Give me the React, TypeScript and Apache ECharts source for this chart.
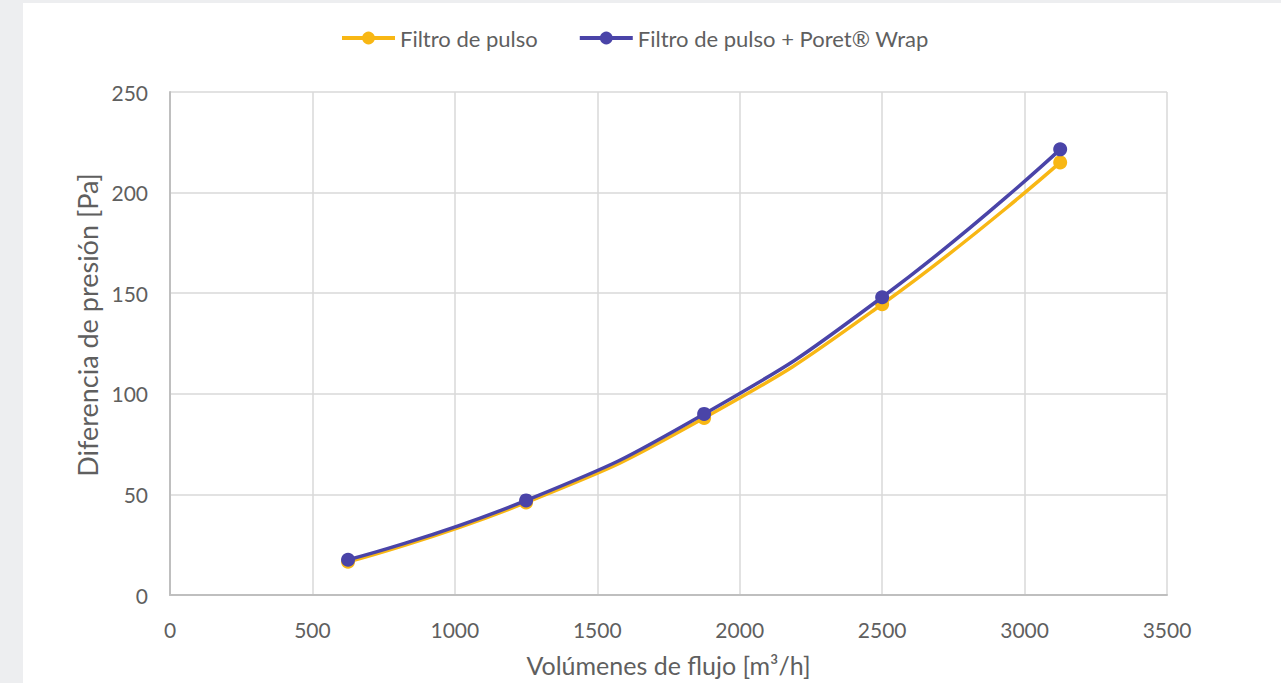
import React, { useEffect, useRef } from "react";
import * as echarts from "echarts";

const xValues = [625, 1250, 1875, 2500, 3125];
const pulseFilter = [16.5, 46, 88, 144.5, 215];
const pulseWrap = [17.5, 47, 90, 148, 221.5];
const seriesNames = ["Filtro de pulso", "Filtro de pulso + Poret® Wrap"];
const xAxisName = "Volúmenes de flujo [m³/h]";
const yAxisName = "Diferencia de presión [Pa]";

const FONT = "Lato, 'Open Sans', sans-serif";
const TEXT = "#5f5f5f";
const ORANGE = "#F8B714";
const PURPLE = "#4A44A8";

export default function App() {
  const ref = useRef<HTMLDivElement>(null);
  useEffect(() => {
    if (!ref.current) return;
    const chart = echarts.init(ref.current, undefined, { renderer: "svg" });
    const toPairs = (ys: number[]) => xValues.map((x, i) => [x, ys[i]]);
    chart.setOption({
      animation: false,
      backgroundColor: "#ffffff",
      textStyle: { fontFamily: FONT },
      legend: {
        top: 19,
        left: 312,
        itemWidth: 53,
        itemHeight: 16,
        itemGap: 40,
        lineStyle: { width: 4 },
        textStyle: { fontFamily: FONT, fontSize: 22, color: TEXT },
        data: seriesNames,
      },
      grid: {
        left: 147,
        top: 89,
        width: 997,
        height: 503,
        containLabel: false,
        outerBoundsMode: "none",
      },
      graphic: [
        {
          type: "text",
          x: 64,
          y: 322,
          rotation: Math.PI / 2,
          style: {
            text: yAxisName,
            fontFamily: FONT,
            fontSize: 27,
            fill: TEXT,
            textAlign: "center",
            textVerticalAlign: "middle",
          },
        },
      ],
      xAxis: {
        type: "value",
        min: 0,
        max: 3500,
        interval: 500,
        name: xAxisName,
        nameLocation: "middle",
        nameGap: 57,
        nameTextStyle: { fontFamily: FONT, fontSize: 25, color: TEXT },
        axisLine: { show: true, lineStyle: { color: "#BFBFBF", width: 2 } },
        axisTick: { show: false },
        axisLabel: {
          fontFamily: FONT,
          fontSize: 21,
          color: TEXT,
          margin: 24,
          formatter: (v: number) => String(v),
        },
        splitLine: { show: true, lineStyle: { color: "#D9D9D9", width: 1.5 } },
      },
      yAxis: {
        type: "value",
        min: 0,
        max: 250,
        interval: 50,
        axisLine: { show: true, lineStyle: { color: "#BFBFBF", width: 2 } },
        axisTick: { show: false },
        axisLabel: {
          fontFamily: FONT,
          fontSize: 21,
          color: TEXT,
          margin: 22,
          formatter: (v: number) => String(v),
        },
        splitLine: { show: true, lineStyle: { color: "#D9D9D9", width: 1.5 } },
      },
      series: [
        {
          name: seriesNames[0],
          type: "line",
          smooth: true,
          data: toPairs(pulseFilter),
          symbol: "circle",
          symbolSize: 14,
          itemStyle: { color: ORANGE },
          lineStyle: { color: ORANGE, width: 3.5 },
          z: 2,
        },
        {
          name: seriesNames[1],
          type: "line",
          smooth: true,
          data: toPairs(pulseWrap),
          symbol: "circle",
          symbolSize: 14,
          itemStyle: { color: PURPLE },
          lineStyle: { color: PURPLE, width: 3.5 },
          z: 3,
        },
      ],
    });
    return () => chart.dispose();
  }, []);
  return (
    <div
      style={{
        position: "fixed",
        left: 0,
        top: 0,
        width: 1281,
        height: 683,
        background: "#EDEEF0",
        overflow: "hidden",
      }}
    >
      <div
        ref={ref}
        style={{ position: "absolute", left: 23, top: 3, width: 1258, height: 680 }}
      />
    </div>
  );
}
